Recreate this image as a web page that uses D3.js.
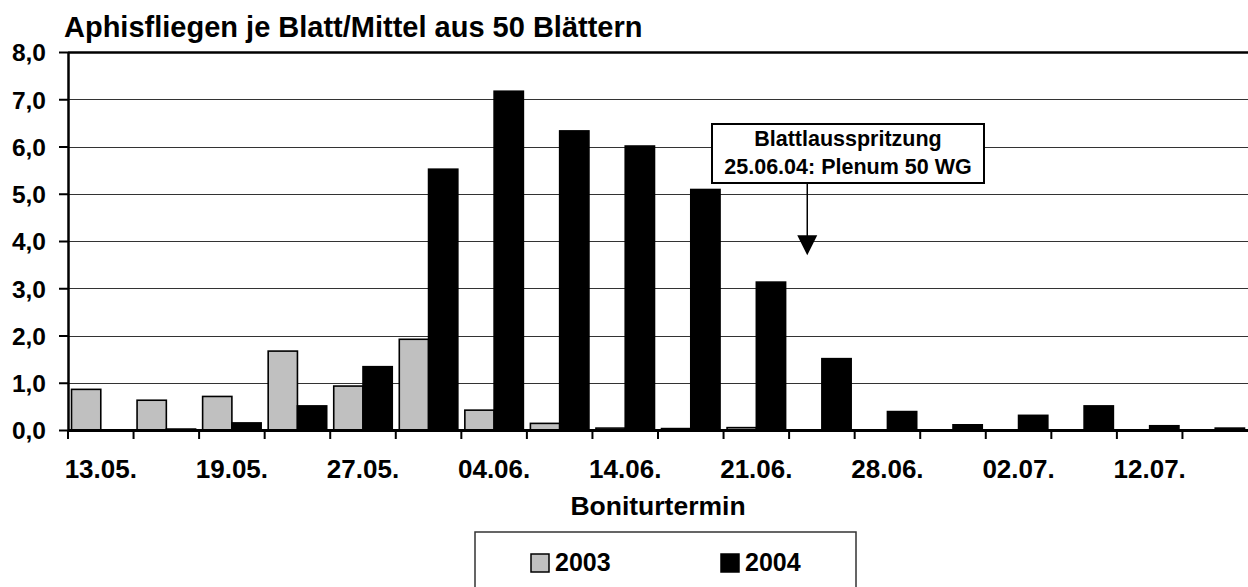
<!DOCTYPE html>
<html>
<head>
<meta charset="utf-8">
<script src="https://cdn.jsdelivr.net/npm/d3@7"></script>
<style>
  html, body { margin: 0; padding: 0; background: #fff; }
  svg { display: block; }
  text { font-family: "Liberation Sans", Arial, sans-serif; font-weight: bold; fill: #000; }
</style>
</head>
<body>
<script>
// ---- data ----
const categoryLabels = ["13.05.", "", "19.05.", "", "27.05.", "", "04.06.", "", "14.06.", "",
                        "21.06.", "", "28.06.", "", "02.07.", "", "12.07.", ""];
const seriesNames = ["2003", "2004"];
const values2003 = [0.86, 0.63, 0.71, 1.67, 0.93, 1.92, 0.42, 0.14, 0.04, 0.03, 0.05, 0, 0, 0, 0, 0, 0, 0];
const values2004 = [0, 0.02, 0.15, 0.51, 1.34, 5.52, 7.17, 6.33, 6.01, 5.09, 3.13, 1.51, 0.39, 0.11, 0.31, 0.51, 0.09, 0.04];
const yTicks = [0, 1, 2, 3, 4, 5, 6, 7, 8];
const title = "Aphisfliegen je Blatt/Mittel aus 50 Blättern";
const xTitle = "Boniturtermin";
const noteLines = ["Blattlausspritzung", "25.06.04: Plenum 50 WG"];
const noteCategory = 11;   // 25.06.
const noteSeries = 0;

(function () {
const W = 1248, H = 587;
const pL = 68, pR = 1248, pT = 52, pB = 430;
const colors = ["#c0c0c0", "#000000"];

const svg = d3.select("body").append("svg").attr("width", W).attr("height", H);

const idx = d3.range(categoryLabels.length);
const x = d3.scaleBand().domain(idx).range([pL, pR]).paddingInner(0).paddingOuter(0);
const xs = d3.scaleBand().domain([0, 1]).range([0, x.bandwidth()]).paddingInner(0).paddingOuter(0.12);
const y = d3.scaleLinear().domain([0, 8]).range([pB, pT]);

// gridlines
svg.append("g").selectAll("line").data(yTicks.filter(d => d > 0)).join("line")
  .attr("x1", pL).attr("x2", pR)
  .attr("y1", d => Math.round(y(d)) + 0.5).attr("y2", d => Math.round(y(d)) + 0.5)
  .attr("stroke", d => d === 8 ? "#000" : "#333")
  .attr("stroke-width", d => d === 8 ? 2.5 : 1);

// bars
const series = [values2003, values2004];
series.forEach((vals, si) => {
  svg.append("g").selectAll("rect").data(vals.map((v, i) => ({v, i})).filter(d => d.v > 0)).join("rect")
    .attr("x", d => x(d.i) + xs(si))
    .attr("width", xs.bandwidth())
    .attr("y", d => y(d.v))
    .attr("height", d => y(0) - y(d.v))
    .attr("fill", colors[si])
    .attr("stroke", "#000")
    .attr("stroke-width", 1.6);
});

// y axis
const yAxis = d3.axisLeft(y).tickValues(yTicks).tickSize(9).tickSizeOuter(0)
  .tickFormat(d => d3.format(".1f")(d).replace(".", ","));
const gy = svg.append("g").attr("transform", `translate(${pL},0)`).call(yAxis);
gy.select(".domain").attr("stroke", "#000").attr("stroke-width", 2.5);
gy.selectAll(".tick line").attr("stroke", "#000").attr("stroke-width", 2);
gy.selectAll(".tick text").attr("x", -22).attr("dy", "0.36em")
  .style("font-size", "24.5px").style("font-family", "Liberation Sans, Arial, sans-serif").style("font-weight", "bold").attr("fill", "#000");

// x axis
const xAxis = d3.axisBottom(x).tickValues(idx).tickSize(0).tickSizeOuter(0)
  .tickFormat(i => categoryLabels[i]);
const gx = svg.append("g").attr("transform", `translate(0,${pB})`).call(xAxis);
gx.select(".domain").attr("stroke", "#000").attr("stroke-width", 3);
gx.selectAll(".tick text").attr("y", 48).attr("dy", 0)
  .style("font-size", "26px").style("font-family", "Liberation Sans, Arial, sans-serif").style("font-weight", "bold").attr("fill", "#000");
// category boundary tick marks
svg.append("g").selectAll("line").data(idx).join("line")
  .attr("x1", d => x(d)).attr("x2", d => x(d))
  .attr("y1", pB).attr("y2", pB + 9)
  .attr("stroke", "#000").attr("stroke-width", 2);

// title
svg.append("text").attr("x", 64).attr("y", 37).style("font-size", "29px").text(title);
// x title
svg.append("text").attr("x", (pL + pR) / 2).attr("y", 515).attr("text-anchor", "middle")
  .style("font-size", "26.5px").text(xTitle);

// annotation
const ax = x(noteCategory) + xs(noteSeries) + xs.bandwidth() / 2;
const boxL = 712, boxR = 984, boxT = 124, boxB = 183;
svg.append("rect").attr("x", boxL).attr("y", boxT).attr("width", boxR - boxL).attr("height", boxB - boxT)
  .attr("fill", "#fff").attr("stroke", "#000").attr("stroke-width", 2);
noteLines.forEach((t, i) => {
  svg.append("text").attr("x", (boxL + boxR) / 2).attr("y", 146 + i * 28).attr("text-anchor", "middle")
    .style("font-size", "21.5px").text(t);
});
const tipY = y(3.7);
svg.append("line").attr("x1", ax).attr("x2", ax).attr("y1", boxB).attr("y2", tipY - 18)
  .attr("stroke", "#000").attr("stroke-width", 1.5);
svg.append("path").attr("d", `M${ax - 10},${tipY - 20} L${ax + 10},${tipY - 20} L${ax},${tipY} Z`).attr("fill", "#000");

// legend
const lg = svg.append("g");
lg.append("rect").attr("x", 475).attr("y", 532).attr("width", 381).attr("height", 80)
  .attr("fill", "#fff").attr("stroke", "#333").attr("stroke-width", 1.5);
const legX = [531, 721];
seriesNames.forEach((n, i) => {
  lg.append("rect").attr("x", legX[i]).attr("y", 554).attr("width", 18).attr("height", 18)
    .attr("fill", colors[i]).attr("stroke", "#000").attr("stroke-width", 1.5);
  lg.append("text").attr("x", legX[i] + 24).attr("y", 571).style("font-size", "25px").text(n);
});
})();
</script>
</body>
</html>
